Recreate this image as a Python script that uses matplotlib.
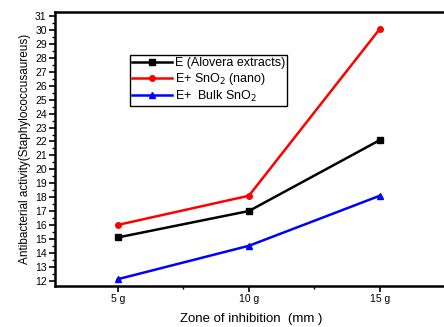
import matplotlib
matplotlib.use('Agg')
import matplotlib.pyplot as plt
from matplotlib.ticker import MultipleLocator

# data
doses = ['5 g', '10 g', '15 g']
aloe = [15.1, 17.0, 22.1]
sno2_nano = [16.0, 18.1, 30.1]
sno2_bulk = [12.1, 14.5, 18.1]

plt.rcParams['font.family'] = ['Liberation Sans', 'DejaVu Sans']

fig = plt.figure(figsize=(4.44, 3.27), dpi=100)
ax = fig.add_axes([0.124, 0.125, 0.885, 0.838])

x = list(range(1, len(doses) + 1))
ax.plot(x, aloe, color='black', marker='s', markersize=4, lw=1.8, label='E (Alovera extracts)')
ax.plot(x, sno2_nano, color='red', marker='o', markersize=4, lw=1.8, label='E+ SnO$_2$ (nano)')
ax.plot(x, sno2_bulk, color='blue', marker='^', markersize=5, lw=1.8, label='E+  Bulk SnO$_2$')

ax.set_xlim(0.52, 3.52)
ax.set_ylim(11.6, 31.3)
ax.set_xticks(x)
ax.set_xticklabels(doses)
ax.xaxis.set_minor_locator(MultipleLocator(0.5))
ax.yaxis.set_major_locator(MultipleLocator(1))
ax.yaxis.set_minor_locator(MultipleLocator(0.5))
ax.tick_params(which='major', direction='out', length=4, width=1.2, labelsize=7.5, pad=2)
ax.tick_params(which='minor', direction='out', length=2, width=1)

for s in ax.spines.values():
    s.set_linewidth(1.8)

ax.set_xlabel('Zone of inhibition  (mm )', fontsize=9.5, labelpad=6)
ax.set_ylabel('Antibacterial activity(Staphylococcusaureus)', fontsize=8.5, labelpad=3)

leg = ax.legend(loc='upper left', bbox_to_anchor=(0.19, 0.845), fontsize=9,
                frameon=True, fancybox=False, edgecolor='black', framealpha=1,
                handlelength=3.2, borderpad=0.2, labelspacing=0.15, handletextpad=0.2,
                borderaxespad=0)
leg.get_frame().set_linewidth(1)

plt.savefig('out.png', dpi=100)
